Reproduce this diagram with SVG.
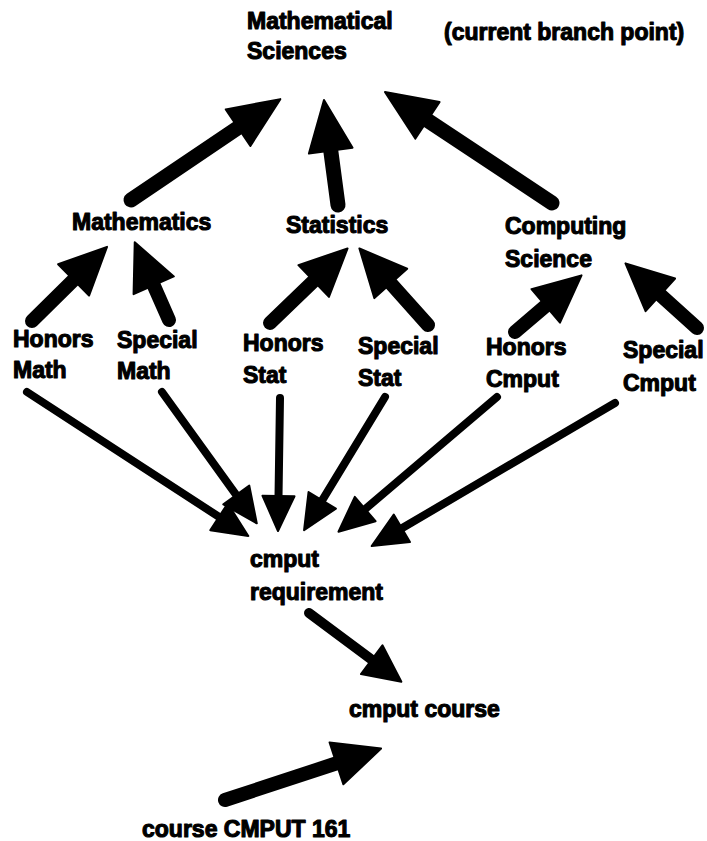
<svg xmlns="http://www.w3.org/2000/svg" width="707" height="841" viewBox="0 0 707 841">
<style>
  text { font-family: "Liberation Sans", Arial, sans-serif; font-weight: bold; font-size: 23px; fill: #000; stroke: #000; stroke-width: 1.1px; stroke-linejoin: round; }
  .big { stroke: #000; stroke-width: 15; stroke-linecap: round; fill: none; marker-end: url(#hBig); }
  .mid { stroke: #000; stroke-width: 14; stroke-linecap: round; fill: none; marker-end: url(#hMid); }
  .thin { stroke: #000; stroke-width: 8; stroke-linecap: round; fill: none; marker-end: url(#hSmall); }
  .med { stroke: #000; stroke-width: 10; stroke-linecap: round; fill: none; marker-end: url(#hMed); }
  .head { fill: #000; stroke: #000; stroke-width: 2; stroke-linejoin: round; }
</style>
<defs>
  <marker id="hBig" markerUnits="userSpaceOnUse" markerWidth="52" markerHeight="44" refX="1" refY="22" orient="auto" overflow="visible">
    <path class="head" d="M0,0 L51,22 L0,44 Z"/>
  </marker>
  <marker id="hMid" markerUnits="userSpaceOnUse" markerWidth="48" markerHeight="44" refX="1" refY="22" orient="auto" overflow="visible">
    <path class="head" d="M0,0 L47,22 L0,44 Z"/>
  </marker>
  <marker id="hMed" markerUnits="userSpaceOnUse" markerWidth="38" markerHeight="36" refX="1" refY="18" orient="auto" overflow="visible">
    <path class="head" d="M0,0 L37,18 L0,36 Z"/>
  </marker>
  <marker id="hSmall" markerUnits="userSpaceOnUse" markerWidth="36" markerHeight="32" refX="1" refY="16" orient="auto" overflow="visible">
    <path class="head" d="M0,0 L35,16 L0,32 Z"/>
  </marker>
</defs>

<g id="connectors">
  <!-- to Mathematical Sciences -->
  <line class="big" x1="131" y1="200" x2="238.9" y2="127.1"/>
  <line class="big" x1="338" y1="205" x2="330.6" y2="149.6"/>
  <line class="big" x1="552" y1="203" x2="426.6" y2="119.7"/>
  <!-- to Mathematics / Statistics / Computing Science -->
  <line class="mid" x1="32" y1="321" x2="74.3" y2="279.2"/>
  <line class="mid" x1="169" y1="320" x2="153.3" y2="284.4"/>
  <line class="mid" x1="270" y1="323" x2="314.4" y2="280.3"/>
  <line class="mid" x1="428" y1="325" x2="390.1" y2="282.7"/>
  <line class="mid" x1="515" y1="332" x2="546.5" y2="305.2"/>
  <line class="mid" x1="697" y1="328" x2="659.6" y2="294.2"/>
  <!-- to cmput requirement -->
  <line class="thin" x1="27" y1="392" x2="219.8" y2="517.4"/>
  <line class="thin" x1="162" y1="392" x2="236.9" y2="495.8"/>
  <line class="thin" x1="280" y1="398" x2="278.5" y2="497"/>
  <line class="thin" x1="385" y1="397" x2="321.7" y2="501.2"/>
  <line class="thin" x1="497" y1="397" x2="364.4" y2="509.7"/>
  <line class="thin" x1="615" y1="403" x2="401" y2="528.8"/>
  <!-- to cmput course -->
  <line class="med" x1="309" y1="613" x2="372.5" y2="660.3"/>
  <line class="mid" x1="225" y1="800" x2="337.4" y2="763"/>
</g>

<g id="mathematical-sciences">
  <text x="247" y="29">Mathematical</text>
  <text x="247" y="59">Sciences</text>
</g>
<g id="branch-point-note">
  <text x="444" y="40">(current branch point)</text>
</g>
<g id="mathematics">
  <text x="72" y="230">Mathematics</text>
</g>
<g id="statistics">
  <text x="286" y="233">Statistics</text>
</g>
<g id="computing-science">
  <text x="505" y="234">Computing</text>
  <text x="505" y="267">Science</text>
</g>
<g id="honors-math">
  <text x="13" y="347">Honors</text>
  <text x="13" y="378">Math</text>
</g>
<g id="special-math">
  <text x="117" y="348">Special</text>
  <text x="117" y="379">Math</text>
</g>
<g id="honors-stat">
  <text x="243" y="351">Honors</text>
  <text x="243" y="383">Stat</text>
</g>
<g id="special-stat">
  <text x="358" y="354">Special</text>
  <text x="358" y="386">Stat</text>
</g>
<g id="honors-cmput">
  <text x="486" y="355">Honors</text>
  <text x="486" y="387">Cmput</text>
</g>
<g id="special-cmput">
  <text x="623" y="358">Special</text>
  <text x="623" y="391">Cmput</text>
</g>
<g id="cmput-requirement">
  <text x="250" y="567">cmput</text>
  <text x="250" y="600">requirement</text>
</g>
<g id="cmput-course">
  <text x="349" y="717">cmput course</text>
</g>
<g id="course-cmput-161">
  <text x="142" y="837">course CMPUT 161</text>
</g>
</svg>
